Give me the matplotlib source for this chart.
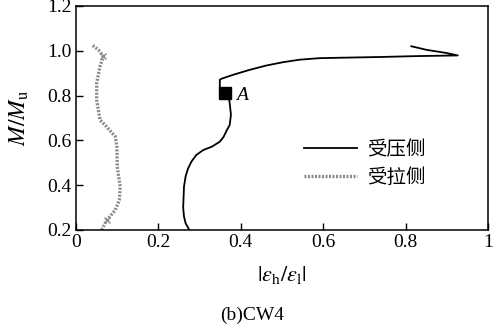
import numpy as np
import matplotlib
matplotlib.use("Agg")
import matplotlib.pyplot as plt

plt.rcParams['font.family'] = ['Liberation Serif', 'Noto Sans CJK SC']
plt.rcParams['mathtext.fontset'] = 'stix'

# compression side (受压侧)
comp_x = [0.275, 0.266, 0.262, 0.260, 0.262, 0.266, 0.272, 0.280, 0.292, 0.309, 0.330,
          0.349, 0.358, 0.366, 0.373, 0.376, 0.374, 0.372, 0.372, 0.361, 0.349, 0.349,
          0.353, 0.382, 0.422, 0.462, 0.503, 0.543, 0.592, 0.737, 0.826, 0.927, 0.899,
          0.851, 0.814]
comp_y = [0.200, 0.230, 0.260, 0.300, 0.393, 0.440, 0.475, 0.505, 0.535, 0.557, 0.572,
          0.594, 0.615, 0.645, 0.669, 0.713, 0.750, 0.780, 0.795, 0.813, 0.833, 0.870,
          0.875, 0.893, 0.915, 0.934, 0.949, 0.960, 0.967, 0.972, 0.976, 0.979, 0.990,
          1.004, 1.020]

# tension side (受拉侧)
tens_x = [0.062, 0.074, 0.095, 0.105, 0.107, 0.100, 0.099, 0.095, 0.074, 0.058,
          0.050, 0.050, 0.058, 0.066, 0.054, 0.038]
tens_y = [0.200, 0.243, 0.288, 0.333, 0.393, 0.482, 0.572, 0.617, 0.661, 0.691,
          0.781, 0.855, 0.930, 0.975, 1.004, 1.027]

point_a = (0.361, 0.813)

xticks = [0, 0.2, 0.4, 0.6, 0.8, 1]
xticklabels = ['0', '0.2', '0.4', '0.6', '0.8', '1']
yticks = [0.2, 0.4, 0.6, 0.8, 1.0, 1.2]
yticklabels = ['0.2', '0.4', '0.6', '0.8', '1.0', '1.2']

fig = plt.figure(figsize=(5.04, 3.29), dpi=100)
ax = fig.add_axes([0.151, 0.301, 0.817, 0.681])

ax.plot(comp_x, comp_y, color='black', lw=1.3, label='受压侧')
ax.plot(tens_x, tens_y, color='#8a8a8a', lw=2.4, linestyle=(0, (0.6, 0.45)), label='受拉侧')
ax.plot(tens_x[13], tens_y[13], marker='x', color='#8a8a8a', ms=5, mew=1)
ax.plot(tens_x[1], tens_y[1], marker='x', color='#8a8a8a', ms=5, mew=1)

ax.plot(*point_a, marker='s', color='black', ms=8)
ax.text(point_a[0] + 0.028, point_a[1] - 0.015, 'A', fontsize=14, style='italic',
        va='center', ha='left')

ax.set_xlim(0, 1)
ax.set_ylim(0.2, 1.2)
ax.set_xticks(xticks)
ax.set_xticklabels(xticklabels)
ax.set_yticks(yticks)
ax.set_yticklabels(yticklabels)
ax.tick_params(direction='in', length=5, width=1, labelsize=14, pad=3)
for s in ax.spines.values():
    s.set_linewidth(1.1)

ax.set_xlabel(r'$|\varepsilon_{\mathrm{h}}/\varepsilon_{\mathrm{l}}|$', fontsize=16, labelpad=9)
ax.set_ylabel(r'$M/M_{\mathrm{u}}$', fontsize=17, labelpad=12)

leg = ax.legend(loc='lower right', bbox_to_anchor=(0.89, 0.11), frameon=False,
                handlelength=2.7, handletextpad=0.5, labelspacing=0.35,
                prop={'family': ['Noto Sans CJK SC'], 'size': 14, 'weight': 'light'})

fig.text(0.5, 0.042, '(b)CW4', fontsize=14, ha='center', va='center')

fig.savefig('out.png', dpi=100)
